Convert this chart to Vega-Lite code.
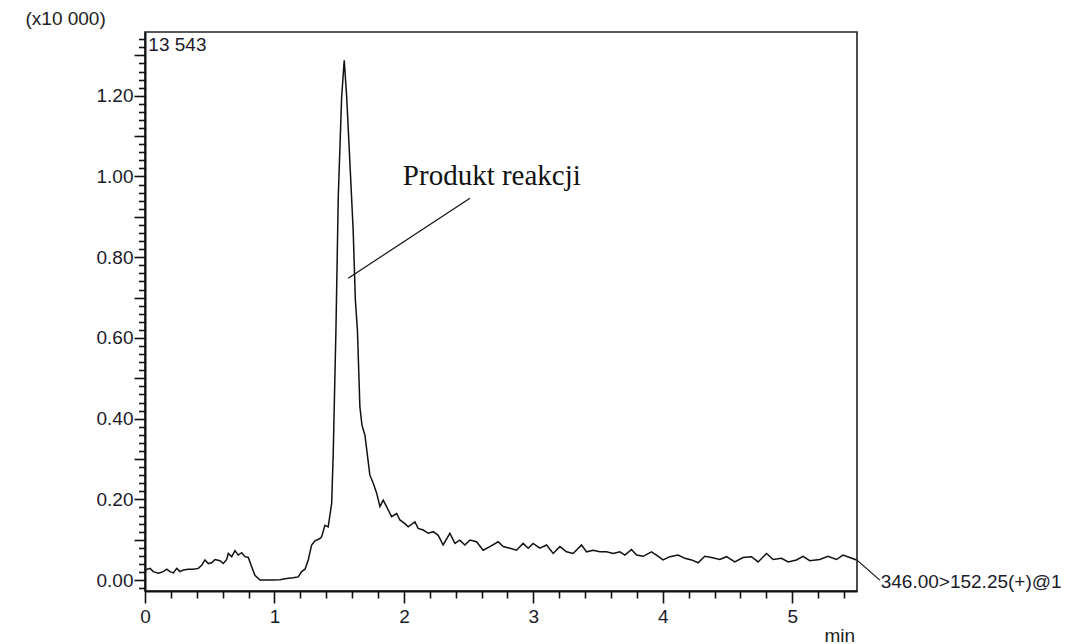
{
  "$schema": "https://vega.github.io/schema/vega-lite/v6.json",
  "width": 712,
  "height": 559,
  "autosize": {"type": "none"},
  "padding": {"left": 145, "top": 32, "right": 217, "bottom": 53},
  "background": "white",
  "config": {
    "view": {"stroke": "#222", "strokeWidth": 1.6},
    "font": "Liberation Sans"
  },
  "datasets": {
    "trace": [
      {"t": 0.000, "v": 0.025}, {"t": 0.039, "v": 0.029}, {"t": 0.064, "v": 0.021}, {"t": 0.103, "v": 0.017},
      {"t": 0.141, "v": 0.021}, {"t": 0.168, "v": 0.027}, {"t": 0.193, "v": 0.021}, {"t": 0.219, "v": 0.018},
      {"t": 0.245, "v": 0.029}, {"t": 0.270, "v": 0.021}, {"t": 0.296, "v": 0.025}, {"t": 0.334, "v": 0.027},
      {"t": 0.373, "v": 0.027}, {"t": 0.412, "v": 0.029}, {"t": 0.438, "v": 0.037}, {"t": 0.463, "v": 0.050},
      {"t": 0.489, "v": 0.041}, {"t": 0.515, "v": 0.043}, {"t": 0.541, "v": 0.051}, {"t": 0.579, "v": 0.048},
      {"t": 0.605, "v": 0.041}, {"t": 0.631, "v": 0.051}, {"t": 0.643, "v": 0.066}, {"t": 0.670, "v": 0.058},
      {"t": 0.695, "v": 0.073}, {"t": 0.720, "v": 0.062}, {"t": 0.747, "v": 0.068}, {"t": 0.772, "v": 0.058},
      {"t": 0.798, "v": 0.056}, {"t": 0.824, "v": 0.033}, {"t": 0.849, "v": 0.012}, {"t": 0.888, "v": 0.000},
      {"t": 0.940, "v": 0.000}, {"t": 0.991, "v": 0.000}, {"t": 1.042, "v": 0.001}, {"t": 1.094, "v": 0.004},
      {"t": 1.145, "v": 0.006}, {"t": 1.184, "v": 0.008}, {"t": 1.210, "v": 0.021}, {"t": 1.236, "v": 0.027},
      {"t": 1.261, "v": 0.050}, {"t": 1.287, "v": 0.087}, {"t": 1.313, "v": 0.097}, {"t": 1.351, "v": 0.103},
      {"t": 1.364, "v": 0.107}, {"t": 1.390, "v": 0.136}, {"t": 1.415, "v": 0.132}, {"t": 1.442, "v": 0.190},
      {"t": 1.454, "v": 0.314}, {"t": 1.463, "v": 0.446}, {"t": 1.475, "v": 0.619}, {"t": 1.493, "v": 0.950},
      {"t": 1.519, "v": 1.197}, {"t": 1.539, "v": 1.288}, {"t": 1.558, "v": 1.197}, {"t": 1.583, "v": 1.033},
      {"t": 1.608, "v": 0.867}, {"t": 1.625, "v": 0.694}, {"t": 1.641, "v": 0.619}, {"t": 1.660, "v": 0.429},
      {"t": 1.676, "v": 0.384}, {"t": 1.699, "v": 0.359}, {"t": 1.737, "v": 0.260}, {"t": 1.763, "v": 0.240},
      {"t": 1.789, "v": 0.216}, {"t": 1.815, "v": 0.182}, {"t": 1.840, "v": 0.198}, {"t": 1.866, "v": 0.182},
      {"t": 1.905, "v": 0.157}, {"t": 1.944, "v": 0.165}, {"t": 1.969, "v": 0.149}, {"t": 2.008, "v": 0.140},
      {"t": 2.033, "v": 0.132}, {"t": 2.085, "v": 0.144}, {"t": 2.110, "v": 0.128}, {"t": 2.149, "v": 0.124},
      {"t": 2.188, "v": 0.116}, {"t": 2.226, "v": 0.120}, {"t": 2.265, "v": 0.111}, {"t": 2.303, "v": 0.087},
      {"t": 2.355, "v": 0.116}, {"t": 2.394, "v": 0.091}, {"t": 2.432, "v": 0.099}, {"t": 2.471, "v": 0.087},
      {"t": 2.510, "v": 0.099}, {"t": 2.561, "v": 0.095}, {"t": 2.612, "v": 0.074}, {"t": 2.664, "v": 0.083},
      {"t": 2.728, "v": 0.095}, {"t": 2.767, "v": 0.083}, {"t": 2.819, "v": 0.079}, {"t": 2.870, "v": 0.074},
      {"t": 2.921, "v": 0.091}, {"t": 2.960, "v": 0.079}, {"t": 2.998, "v": 0.091}, {"t": 3.050, "v": 0.079},
      {"t": 3.102, "v": 0.087}, {"t": 3.153, "v": 0.066}, {"t": 3.205, "v": 0.083}, {"t": 3.256, "v": 0.070},
      {"t": 3.307, "v": 0.066}, {"t": 3.372, "v": 0.087}, {"t": 3.411, "v": 0.070}, {"t": 3.462, "v": 0.074},
      {"t": 3.514, "v": 0.070}, {"t": 3.565, "v": 0.070}, {"t": 3.616, "v": 0.066}, {"t": 3.668, "v": 0.070},
      {"t": 3.707, "v": 0.062}, {"t": 3.758, "v": 0.076}, {"t": 3.797, "v": 0.062}, {"t": 3.848, "v": 0.059},
      {"t": 3.913, "v": 0.070}, {"t": 3.951, "v": 0.062}, {"t": 4.002, "v": 0.050}, {"t": 4.054, "v": 0.058},
      {"t": 4.118, "v": 0.062}, {"t": 4.170, "v": 0.054}, {"t": 4.222, "v": 0.050}, {"t": 4.273, "v": 0.043},
      {"t": 4.324, "v": 0.059}, {"t": 4.376, "v": 0.056}, {"t": 4.440, "v": 0.051}, {"t": 4.492, "v": 0.058},
      {"t": 4.556, "v": 0.045}, {"t": 4.620, "v": 0.056}, {"t": 4.685, "v": 0.058}, {"t": 4.736, "v": 0.045},
      {"t": 4.801, "v": 0.066}, {"t": 4.852, "v": 0.051}, {"t": 4.917, "v": 0.054}, {"t": 4.968, "v": 0.045},
      {"t": 5.032, "v": 0.050}, {"t": 5.083, "v": 0.059}, {"t": 5.135, "v": 0.048}, {"t": 5.212, "v": 0.051},
      {"t": 5.276, "v": 0.059}, {"t": 5.341, "v": 0.051}, {"t": 5.392, "v": 0.062}, {"t": 5.444, "v": 0.056},
      {"t": 5.496, "v": 0.050}
    ],
    "leaders": [
      {"x": 1.570, "y": 0.748, "x2": 2.510, "y2": 0.946},
      {"x": 5.498, "y": 0.050, "x2": 5.676, "y2": 0.000}
    ],
    "peaklabel": [{"x": 1.992, "y": 0.979, "label": "Produkt reakcji"}],
    "sanslabels": [
      {"x": 0.026, "y": 1.311, "label": "13 543"},
      {"x": 5.683, "y": -0.020, "label": "346.00>152.25(+)@1"}
    ]
  },
  "layer": [
    {
      "data": {"name": "trace"},
      "mark": {"type": "line", "color": "#111", "strokeWidth": 1.5, "interpolate": "linear"},
      "encoding": {
        "x": {
          "field": "t", "type": "quantitative",
          "scale": {"domain": [0, 5.5], "nice": false, "zero": false},
          "axis": {
            "title": "min",
            "titleFont": "Liberation Sans", "titleFontSize": 19, "titleFontWeight": "normal", "titleColor": "#222",
            "titleAlign": "left", "titleBaseline": "alphabetic", "titleX": 679, "titleY": 50, "titleAnchor": null,
            "tickCount": 500,
            "values": [0, 0.2, 0.4, 0.6, 0.8, 1, 1.2, 1.4, 1.6, 1.8, 2, 2.2, 2.4, 2.6, 2.8, 3, 3.2, 3.4, 3.6, 3.8, 4, 4.2, 4.4, 4.6, 4.8, 5, 5.2, 5.4],
            "labelExpr": "abs(datum.value - round(datum.value)) < 1e-6 ? format(datum.value, 'd') : ''",
            "labelFont": "Liberation Sans", "labelFontSize": 19, "labelColor": "#1b1b2b",
            "labelPadding": 4, "labelFlush": false, "labelOverlap": false,
            "tickColor": "#111", "tickWidth": 1.6,
            "tickSize": {"condition": {"test": "abs(datum.value - round(datum.value)) < 1e-6", "value": 12}, "value": 7},
            "domainColor": "#111", "domainWidth": 2, "grid": false
          }
        },
        "y": {
          "field": "v", "type": "quantitative",
          "scale": {"domain": [-0.027, 1.358], "nice": false, "zero": false},
          "axis": {
            "title": "(x10 000)",
            "titleFont": "Liberation Sans", "titleFontSize": 19, "titleFontWeight": "normal", "titleColor": "#222",
            "titleAngle": 0, "titleAlign": "left", "titleBaseline": "alphabetic", "titleX": -120, "titleY": -8, "titleAnchor": null,
            "tickCount": 500,
            "values": [-0.02, 0, 0.02, 0.04, 0.06, 0.08, 0.1, 0.12, 0.14, 0.16, 0.18, 0.2, 0.22, 0.24, 0.26, 0.28, 0.3, 0.32, 0.34, 0.36, 0.38, 0.4, 0.42, 0.44, 0.46, 0.48, 0.5, 0.52, 0.54, 0.56, 0.58, 0.6, 0.62, 0.64, 0.66, 0.68, 0.7, 0.72, 0.74, 0.76, 0.78, 0.8, 0.82, 0.84, 0.86, 0.88, 0.9, 0.92, 0.94, 0.96, 0.98, 1, 1.02, 1.04, 1.06, 1.08, 1.1, 1.12, 1.14, 1.16, 1.18, 1.2, 1.22, 1.24, 1.26, 1.28, 1.3, 1.32, 1.34],
            "labelExpr": "abs(datum.value*5 - round(datum.value*5)) < 1e-6 ? format(datum.value, '.2f') : ''",
            "labelFont": "Liberation Sans", "labelFontSize": 19, "labelColor": "#1b1b2b",
            "labelPadding": 1, "labelFlush": false, "labelOverlap": false,
            "tickColor": "#111", "tickWidth": 1.6,
            "tickSize": {"condition": {"test": "abs(datum.value*10 - round(datum.value*10)) < 1e-6", "value": 11}, "value": 6.5},
            "domainColor": "#111", "domainWidth": 2, "grid": false
          }
        }
      }
    },
    {
      "data": {"name": "leaders"},
      "mark": {"type": "rule", "color": "#111", "strokeWidth": 1.2},
      "encoding": {
        "x": {"field": "x", "type": "quantitative"},
        "y": {"field": "y", "type": "quantitative"},
        "x2": {"field": "x2"},
        "y2": {"field": "y2"}
      }
    },
    {
      "data": {"name": "peaklabel"},
      "mark": {"type": "text", "font": "Liberation Serif", "fontSize": 29, "align": "left", "baseline": "alphabetic", "color": "#111"},
      "encoding": {
        "x": {"field": "x", "type": "quantitative"},
        "y": {"field": "y", "type": "quantitative"},
        "text": {"field": "label"}
      }
    },
    {
      "data": {"name": "sanslabels"},
      "mark": {"type": "text", "font": "Liberation Sans", "fontSize": 19, "align": "left", "baseline": "alphabetic", "color": "#1b1b2b"},
      "encoding": {
        "x": {"field": "x", "type": "quantitative"},
        "y": {"field": "y", "type": "quantitative"},
        "text": {"field": "label"}
      }
    }
  ]
}
